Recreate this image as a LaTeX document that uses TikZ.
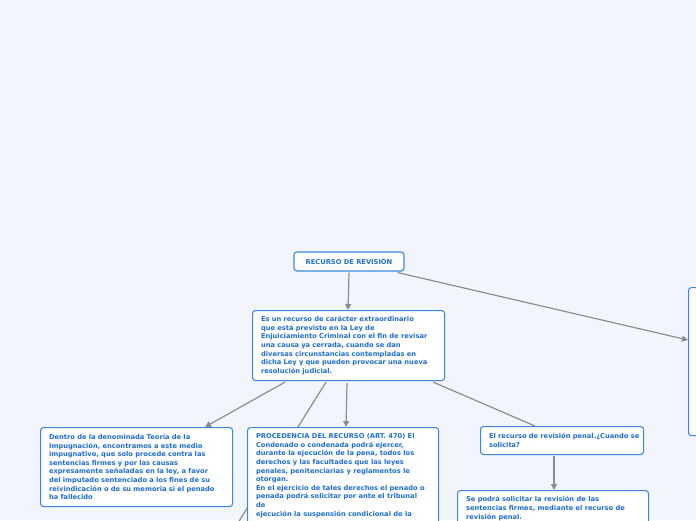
\documentclass[tikz,border=0pt]{standalone}
\usepackage{fontspec}
\setmainfont{DejaVu Sans}
\usetikzlibrary{calc,arrows.meta}
\definecolor{bgc}{HTML}{F2F5FC}
\definecolor{bordc}{HTML}{3A86E0}
\definecolor{txtc}{HTML}{1F6FD3}
\definecolor{linec}{HTML}{8C8C99}
\pgfdeclarelayer{bglayer}
\pgfdeclarelayer{edgelayer}
\pgfsetlayers{bglayer,edgelayer,main}
\tikzset{
  box/.style={draw=bordc, line width=1.1pt, fill=white, rounded corners=3pt,
    text=txtc, font=\fontsize{6.7}{8.6}\selectfont\bfseries, align=left,
    inner xsep=8.5pt, inner ysep=4.5pt, anchor=north west},
  conn/.style={draw=linec, line width=1.2pt},
  arr/.style={conn, -{Triangle[length=6pt,width=6pt]}}
}
\begin{document}
\begin{tikzpicture}[x=1pt,y=-1pt]
\begin{pgfonlayer}{bglayer}
\fill[bgc] (0,0) rectangle (696,520);
\end{pgfonlayer}
\useasboundingbox (0,0) rectangle (696,520);
\clip (0,0) rectangle (696,520);

\node[box, anchor=center, minimum width=110pt, minimum height=19pt, align=center] (root) at (349,261.5) {RECURSO DE REVISIÓN};

\node[box, text width=175pt, minimum height=70pt] (main) at (252,310) {Es un recurso de carácter extraordinario\\
que está previsto en la Ley de\\
Enjuiciamiento Criminal con el fin de revisar\\
una causa ya cerrada, cuando se dan\\
diversas circunstancias contempladas en\\
dicha Ley y que pueden provocar una nueva\\
resolución judicial.};

\node[box, text width=175pt, minimum height=79pt] (left) at (40,427) {Dentro de la denominada Teoría de la\\
Impugnación, encontramos a este medio\\
impugnativo, que solo procede contra las\\
sentencias firmes y por las causas\\
expresamente señaladas en la ley, a favor\\
del imputado sentenciado a los fines de su\\
reivindicación o de su memoria si el penado\\
ha fallecido};

\node[box, inner ysep=0pt] (mid) at (247,427) {\begin{minipage}[t][140pt][t]{174pt}\vspace{6pt}
PROCEDENCIA DEL RECURSO (ART. 470) El\\
Condenado o condenada podrá ejercer,\\
durante la ejecución de la pena, todos los\\
derechos y las facultades que las leyes\\
penales, penitenciarias y reglamentos le\\
otorgan.\\
En el ejercicio de tales derechos el penado o\\
penada podrá solicitar por ante el tribunal\\
de\\
ejecución la suspensión condicional de la\end{minipage}};

\node[box, text width=146pt, minimum height=28pt] (q) at (480,426) {\mbox{El recurso de revisión penal.¿Cuando se}\\
solicita?};

\node[box, inner ysep=0pt] (ans) at (457,490) {\begin{minipage}[t][60pt][t]{174pt}\vspace{6pt}
Se podrá solicitar la revisión de las\\
sentencias firmes, mediante el recurso de\\
revisión penal.\end{minipage}};

\node[box, minimum width=150pt, minimum height=148pt] (far) at (688,287) {};

\coordinate (down) at (236,526);

\begin{pgfonlayer}{edgelayer}
\draw[arr] ($(root.south)+(0,1)$) -- ($(main.north)+(-0.5,0)$);
\draw[arr] ($(root.south east)+(-7,1)$) -- ($(far.north west)+(0,53)$);
\draw[arr] ($(main.south west)+(33,1)$) -- ($(left.north west)+(165,0)$);
\draw[conn] ($(main.south west)+(74,1)$) -- (down);
\draw[arr] ($(main.south west)+(95,2)$) -- ($(mid.north west)+(99,0)$);
\draw[conn] ($(main.south east)+(-12,1)$) -- ($(q.north west)+(55,0)$);
\draw[arr] ($(q.south west)+(74,1)$) -- ($(ans.north west)+(97,0)$);
\end{pgfonlayer}
\end{tikzpicture}
\end{document}
